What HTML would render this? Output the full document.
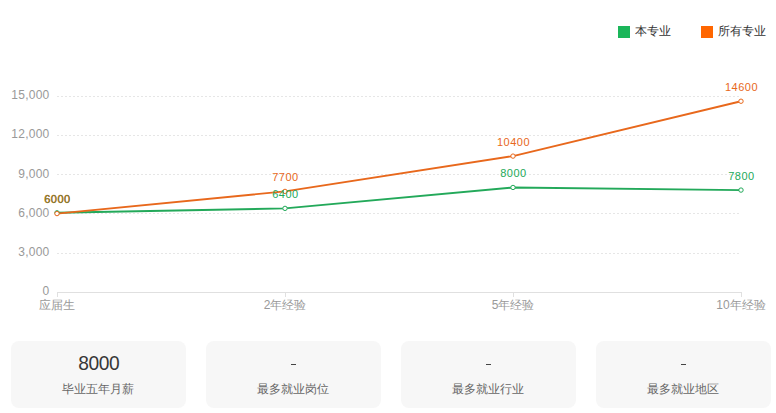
<!DOCTYPE html>
<html><head><meta charset="utf-8"><style>
html,body{margin:0;padding:0;background:#fff;width:776px;height:413px;overflow:hidden;position:relative;font-family:"Liberation Sans",sans-serif}
svg{position:absolute;left:0;top:0}
.yl{font-size:12px;fill:#999;letter-spacing:0.25px}
.xl{font-size:12px;fill:#999}
.dl{font-size:11px;letter-spacing:0.5px}
.lg{position:absolute;top:25px;height:12px;font-size:12px;color:#333;line-height:12px}
.sq{position:absolute;top:26px;width:12px;height:12px}
.card{position:absolute;top:340.5px;width:175.5px;height:67px;background:#f7f7f7;border-radius:8px;text-align:center}
.card .v{position:absolute;left:0;right:0;top:11px;font-size:20px;line-height:22px;color:#383838;letter-spacing:-0.4px;transform:scaleX(0.96)}
.card .dash{position:absolute;left:85.25px;top:363.6px;margin-top:-340.5px;width:5px;height:1.3px;background:#444}
.card .l{position:absolute;left:0;right:0;top:41px;font-size:12px;line-height:14px;color:#666}
</style></head><body>
<div class="sq" style="left:618px;background:#1bb65a"></div><div class="lg" style="left:635px">本专业</div>
<div class="sq" style="left:701px;background:#ff6600"></div><div class="lg" style="left:718px">所有专业</div>
<svg width="776" height="413" viewBox="0 0 776 413">
<line x1="57" y1="96.5" x2="741" y2="96.5" stroke="#e6e6e6" stroke-width="1" stroke-dasharray="2 2"/>
<line x1="57" y1="135.5" x2="741" y2="135.5" stroke="#e6e6e6" stroke-width="1" stroke-dasharray="2 2"/>
<line x1="57" y1="174.5" x2="741" y2="174.5" stroke="#e6e6e6" stroke-width="1" stroke-dasharray="2 2"/>
<line x1="57" y1="213.5" x2="741" y2="213.5" stroke="#e6e6e6" stroke-width="1" stroke-dasharray="2 2"/>
<line x1="57" y1="253.5" x2="741" y2="253.5" stroke="#e6e6e6" stroke-width="1" stroke-dasharray="2 2"/>
<line x1="57" y1="292.5" x2="742" y2="292.5" stroke="#e0e0e0" stroke-width="1"/>
<line x1="57.5" y1="292" x2="57.5" y2="297" stroke="#e0e0e0" stroke-width="1"/>
<line x1="285.5" y1="292" x2="285.5" y2="297" stroke="#e0e0e0" stroke-width="1"/>
<line x1="513.5" y1="292" x2="513.5" y2="297" stroke="#e0e0e0" stroke-width="1"/>
<line x1="741.5" y1="292" x2="741.5" y2="297" stroke="#e0e0e0" stroke-width="1"/>
<text x="49.5" y="99" text-anchor="end" class="yl">15,000</text>
<text x="49.5" y="138" text-anchor="end" class="yl">12,000</text>
<text x="49.5" y="178" text-anchor="end" class="yl">9,000</text>
<text x="49.5" y="217" text-anchor="end" class="yl">6,000</text>
<text x="49.5" y="256" text-anchor="end" class="yl">3,000</text>
<text x="49.5" y="295" text-anchor="end" class="yl">0</text>
<text x="57" y="309" text-anchor="middle" class="xl">应届生</text>
<text x="285" y="309" text-anchor="middle" class="xl">2年经验</text>
<text x="513" y="309" text-anchor="middle" class="xl">5年经验</text>
<text x="741" y="309" text-anchor="middle" class="xl">10年经验</text>
<polyline points="57,212.80 285,208.37 513,187.47 741,190.08" fill="none" stroke="#23a95a" stroke-width="1.9" stroke-linejoin="round"/>
<polyline points="57,213.60 285,191.39 513,156.11 741,101.23" fill="none" stroke="#e8681c" stroke-width="1.9" stroke-linejoin="round"/>
<circle cx="57" cy="212.80" r="2.2" fill="#fff" stroke="#23a95a" stroke-width="1"/>
<circle cx="285" cy="208.37" r="2.2" fill="#fff" stroke="#23a95a" stroke-width="1"/>
<circle cx="513" cy="187.47" r="2.2" fill="#fff" stroke="#23a95a" stroke-width="1"/>
<circle cx="741" cy="190.08" r="2.2" fill="#fff" stroke="#23a95a" stroke-width="1"/>
<circle cx="57" cy="213.60" r="2.2" fill="#fff" stroke="#e8681c" stroke-width="1"/>
<circle cx="285" cy="191.39" r="2.2" fill="#fff" stroke="#e8681c" stroke-width="1"/>
<circle cx="513" cy="156.11" r="2.2" fill="#fff" stroke="#e8681c" stroke-width="1"/>
<circle cx="741" cy="101.23" r="2.2" fill="#fff" stroke="#e8681c" stroke-width="1"/>
<text x="57.5" y="203.10" text-anchor="middle" fill="#e8681c" stroke="#e8681c" stroke-width="0.3" class="dl">6000</text>
<text x="285.5" y="180.89" text-anchor="middle" fill="#e8681c" class="dl">7700</text>
<text x="513.5" y="145.61" text-anchor="middle" fill="#e8681c" class="dl">10400</text>
<text x="741.5" y="90.73" text-anchor="middle" fill="#e8681c" class="dl">14600</text>
<text x="57.5" y="203.10" text-anchor="middle" fill="#6f8234" class="dl">6000</text>
<text x="285.5" y="197.87" text-anchor="middle" fill="#23a95a" class="dl">6400</text>
<text x="513.5" y="176.97" text-anchor="middle" fill="#23a95a" class="dl">8000</text>
<text x="741.5" y="179.58" text-anchor="middle" fill="#23a95a" class="dl">7800</text>
</svg>
<div class="card" style="left:10.5px"><div class="v">8000</div><div class="l">毕业五年月薪</div></div>
<div class="card" style="left:205.5px"><div class="dash"></div><div class="l">最多就业岗位</div></div>
<div class="card" style="left:400.5px"><div class="dash"></div><div class="l">最多就业行业</div></div>
<div class="card" style="left:595.5px"><div class="dash"></div><div class="l">最多就业地区</div></div>

</body></html>
